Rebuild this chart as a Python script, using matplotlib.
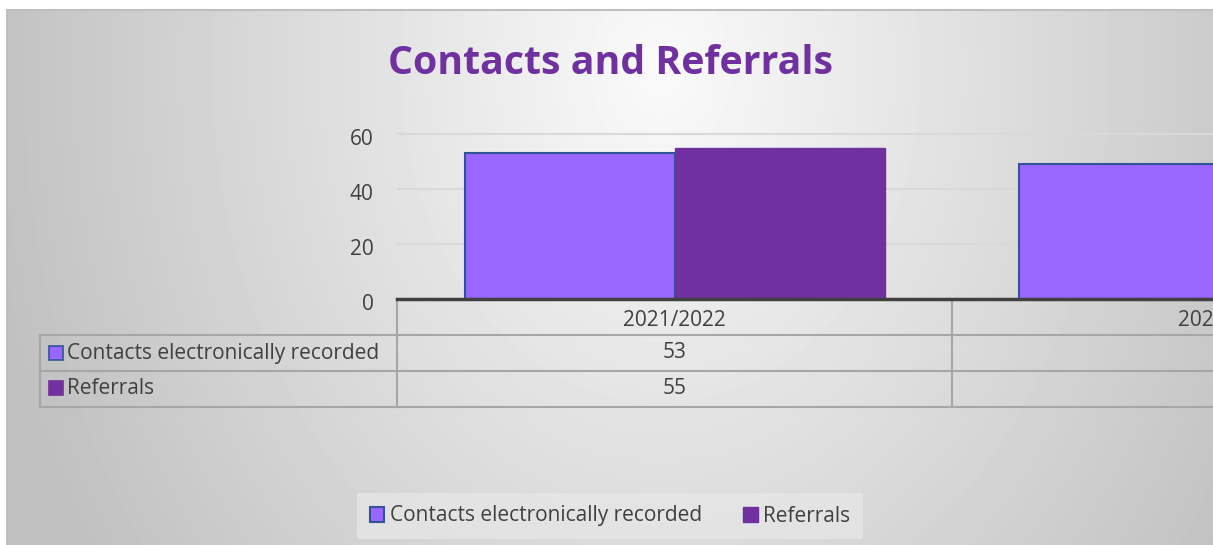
import numpy as np
import matplotlib
matplotlib.use("Agg")
import matplotlib.pyplot as plt
from matplotlib.patches import Rectangle
from matplotlib.lines import Line2D
from matplotlib.transforms import blended_transform_factory, ScaledTranslation

plt.rcParams['font.family'] = ['Open Sans', 'DejaVu Sans']

categories = ['2021/2022', '2022/2023']
contacts = [53, 49]
referrals = [55, 50]   # second value falls outside the visible crop
series_names = ['Contacts electronically recorded', 'Referrals']
yticks = [0, 20, 40, 60]

c_contacts = '#9966FF'
c_contacts_edge = '#2F5597'
c_referrals = '#7030A0'
txt = '#404040'
grid_c = '#d9d9d9'
table_c = '#a6a6a6'
fs = 15

W, H = 1213, 545
fig = plt.figure(figsize=(W / 100, H / 100), dpi=100, facecolor='white')


def px(x0, y0, x1, y1):
    # pixel box (top-left origin) -> figure fraction rect
    return [x0 / W, 1 - y1 / H, (x1 - x0) / W, (y1 - y0) / H]


# gradient background of the chart area
bg = fig.add_axes(px(7, 10, W, H), zorder=0)
gx, gy = np.meshgrid(np.arange(7, W), np.arange(10, H))
d = np.sqrt(((gx - 660) / 640.0) ** 2 + ((gy - 70) / 820.0) ** 2)
val = np.clip(250 - 54 * d, 193, 255) / 255.0
bg.imshow(val, cmap='gray', vmin=0, vmax=1, aspect='auto', interpolation='bilinear')
bg.set_axis_off()
fig.add_artist(Line2D([7 / W, 1], [1 - 10 / H, 1 - 10 / H], color='#bfbfbf', lw=1.5, transform=fig.transFigure))
fig.add_artist(Line2D([7 / W, 7 / W], [1 - 10 / H, 0], color='#bfbfbf', lw=1.5, transform=fig.transFigure))

fig.text(610 / W, 1 - 63 / H, 'Contacts and Referrals', ha='center', va='center',
         fontsize=28.3, fontweight='bold', color=c_referrals)

# main plot area
cat_px = 555.0
ymax = 61.0
ax = fig.add_axes(px(397, 299 - ymax * 2.75, W, 299), zorder=2)
ax.patch.set_alpha(0)
x = np.arange(len(categories))
bw = 210 / cat_px
ax.bar(x - bw / 2, contacts, bw, color=c_contacts, edgecolor=c_contacts_edge, linewidth=1.5,
       label=series_names[0], zorder=3)
ax.bar(x + bw / 2, referrals, bw, color=c_referrals, edgecolor=c_referrals, linewidth=1,
       label=series_names[1], zorder=3)
ax.set_xlim(-0.5, -0.5 + (W - 397) / cat_px)
ax.set_ylim(0, ymax)
ax.set_yticks(yticks)
ax.set_xticks([])
ax.yaxis.grid(True, color=grid_c, lw=1.5, zorder=0)
ax.tick_params(axis='y', length=0, pad=17, labelsize=fs, labelcolor=txt)
shift = ScaledTranslation(0, -3 / 100, fig.dpi_scale_trans)
for lab in ax.get_yticklabels():
    lab.set_transform(lab.get_transform() + shift)
for s in ['top', 'right', 'left']:
    ax.spines[s].set_visible(False)
ax.spines['bottom'].set_color('#404040')
ax.spines['bottom'].set_linewidth(2.5)
ax.spines['bottom'].set_zorder(4)

# data table beneath the axis
tr = blended_transform_factory(ax.transData, fig.transFigure)
fy = lambda y: 1 - y / H
for y in [335, 371, 407]:
    fig.add_artist(Line2D([40 / W, 1], [fy(y), fy(y)], color=table_c, lw=1.5, transform=fig.transFigure))
fig.add_artist(Line2D([40 / W, 40 / W], [fy(335), fy(407)], color=table_c, lw=1.5, transform=fig.transFigure))
fig.add_artist(Line2D([397 / W, 397 / W], [fy(299), fy(407)], color=table_c, lw=1.5, transform=fig.transFigure))
for i in range(len(categories)):
    fig.add_artist(Line2D([i + 0.5, i + 0.5], [fy(299), fy(407)], color=table_c, lw=1.5, transform=tr))
    fig.text(i, fy(320), categories[i], transform=tr, ha='center', va='center', fontsize=fs, color=txt)
    fig.text(i, fy(353), str(contacts[i]), transform=tr, ha='center', va='center', fontsize=fs, color=txt)
    fig.text(i, fy(388), str(referrals[i]), transform=tr, ha='center', va='center', fontsize=fs, color=txt)

row_y = [353, 388]
row_fc = [c_contacts, c_referrals]
row_ec = [c_contacts_edge, c_referrals]
for name, yy, fc, ec in zip(series_names, row_y, row_fc, row_ec):
    fig.add_artist(Rectangle((49 / W, fy(yy + 7)), 14 / W, 14 / H, facecolor=fc, edgecolor=ec,
                             lw=1.2, transform=fig.transFigure))
    fig.text(67 / W, fy(yy), name, ha='left', va='center', fontsize=fs, color=txt)

# legend at the bottom
leg = fig.legend(loc='center', bbox_to_anchor=(610 / W, 1 - 516 / H), ncol=2, frameon=True,
                 fontsize=fs, handlelength=0.7, handleheight=0.7, handletextpad=0.25,
                 columnspacing=2.0, borderpad=0.6, fancybox=False)
leg.get_frame().set_facecolor('#e6e6e6')
leg.get_frame().set_edgecolor('none')
for t in leg.get_texts():
    t.set_color(txt)

fig.savefig('out.png', dpi=100, facecolor='white')
